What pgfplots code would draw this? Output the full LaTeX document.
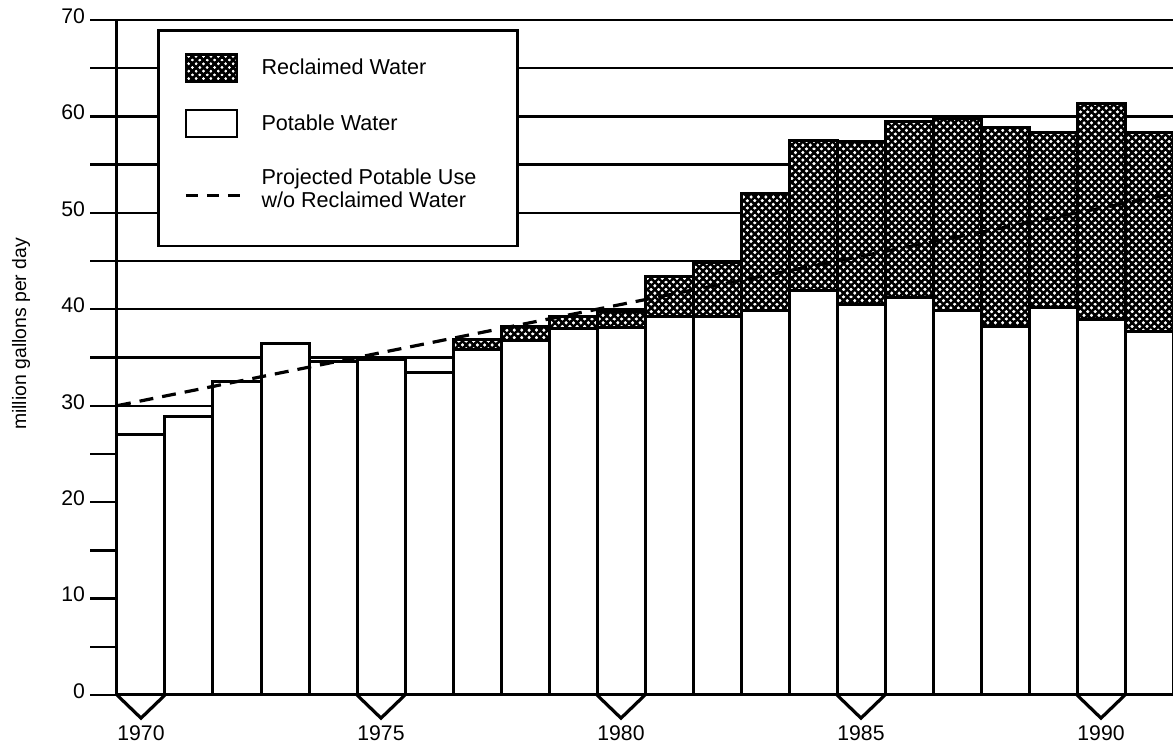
\documentclass[border=0pt]{standalone}
\usepackage{fontspec}
\setmainfont{Liberation Sans}
\usepackage{pgfplots}
\usepackage{pgfplotstable}
\pgfplotsset{compat=1.18}
\usetikzlibrary{patterns}

% dense black netting with small white holes
\pgfdeclarepatternformonly{netting}{\pgfpoint{-1pt}{-1pt}}{\pgfpoint{4.7pt}{4.7pt}}{\pgfpoint{3.7pt}{3.7pt}}{%
  \pgfsetlinewidth{1.2pt}%
  \pgfpathmoveto{\pgfpoint{-1pt}{-1pt}}\pgfpathlineto{\pgfpoint{4.7pt}{4.7pt}}%
  \pgfpathmoveto{\pgfpoint{-1pt}{4.7pt}}\pgfpathlineto{\pgfpoint{4.7pt}{-1pt}}%
  \pgfusepath{stroke}%
}

\pgfplotstableread{
year potable
1970 27.0
1971 28.9
1972 32.5
1973 36.5
1974 34.6
1975 34.8
1976 33.4
1977 35.8
1978 36.8
1979 38.0
1980 38.1
1981 39.3
1982 39.3
1983 39.9
1984 41.9
1985 40.5
1986 41.2
1987 39.9
1988 38.2
1989 40.2
1990 38.9
1991 37.7
}\potable

% potable + reclaimed
\pgfplotstableread{
year total
1977 36.9
1978 38.2
1979 39.3
1980 39.8
1981 43.4
1982 44.8
1983 52.0
1984 57.5
1985 57.4
1986 59.5
1987 59.8
1988 58.8
1989 58.3
1990 61.3
1991 58.3
}\total

\begin{document}
\begin{tikzpicture}
\begin{axis}[
    scale only axis, width=528pt, height=337.5pt,
    xmin=1969.5, xmax=1991.5, ymin=0, ymax=70,
    enlargelimits=false, clip=false,
    axis x line=bottom, axis y line=left,
    axis line style={-, line width=1.5pt},
    ytick={0,5,...,70},
    yticklabels={0,,10,,20,,30,,40,,50,,60,,70},
    ymajorgrids, grid style={line width=1.2pt, black},
    tick align=outside, major tick length=13.5pt,
    ytick style={line width=1.2pt, black},
    xtick={1970,1975,1980,1985,1990},
    xticklabels={1970,1975,1980,1985,1990},
    xtick style={draw=none},
    tick label style={font=\fontsize{10.6}{12}\selectfont},
    /pgf/number format/assume math mode=true,
    yticklabel style={xshift=1pt, yshift=2pt},
    xticklabel style={yshift=1.5pt},
    ylabel={million gallons per day},
    ylabel style={at={(axis description cs:-0.0909,0.535)}, anchor=center,
        font=\fontsize{9.7}{11}\selectfont},
    legend style={
        at={(rel axis cs:0.0379,0.9867)}, anchor=north west,
        draw=black, line width=1.3pt, fill=white,
        inner xsep=13pt, inner ysep=11.5pt,
        row sep=13pt, column sep=8pt,
        font=\fontsize{10.8}{11.5}\selectfont,
        cells={anchor=west, align=left},
    },
]

\addplot[ybar, bar width=1, bar shift=0pt, draw=black, line width=1.5pt,
    fill=white, postaction={pattern=netting},
    legend image code/.code={\draw[line width=1.3pt, fill=white, postaction={pattern=netting}]
        (0pt,-6.75pt) rectangle (25.5pt,6.75pt);}]
    table[x=year, y=total] {\total};
\addlegendentry{Reclaimed Water}

\addplot[ybar, bar width=1, bar shift=0pt, draw=black, line width=1.5pt, fill=white,
    legend image code/.code={\draw[line width=1.3pt, fill=white]
        (0pt,-6.75pt) rectangle (25.5pt,6.75pt);}]
    table[x=year, y=potable] {\potable};
\addlegendentry{Potable Water}

\addplot[black, line width=1.6pt, dash pattern=on 7pt off 4.5pt,
    legend image code/.code={\draw[line width=1.6pt, dash pattern=on 6pt off 4.5pt]
        (0pt,-3pt) -- (27pt,-3pt); \path (0pt,-16pt);}]
    coordinates {(1969.5,30) (1980.5,41) (1991.5,52)};
\addlegendentry{Projected Potable Use\hspace*{5.5pt}\\w/o Reclaimed Water}

% year markers below the axis
\addplot[black, line width=1.6pt, unbounded coords=jump, forget plot]
    coordinates {(1969.5,0) (1970,-2.4) (1970.5,0) (1972,nan)
                 (1974.5,0) (1975,-2.4) (1975.5,0) (1977,nan)
                 (1979.5,0) (1980,-2.4) (1980.5,0) (1982,nan)
                 (1984.5,0) (1985,-2.4) (1985.5,0) (1987,nan)
                 (1989.5,0) (1990,-2.4) (1990.5,0)};
\end{axis}
\pgfresetboundingbox
\path[use as bounding box] (current axis.south west) ++(-58.5pt,-28.5pt)
    rectangle ([yshift=10pt]current axis.north east);
\end{tikzpicture}
\end{document}
